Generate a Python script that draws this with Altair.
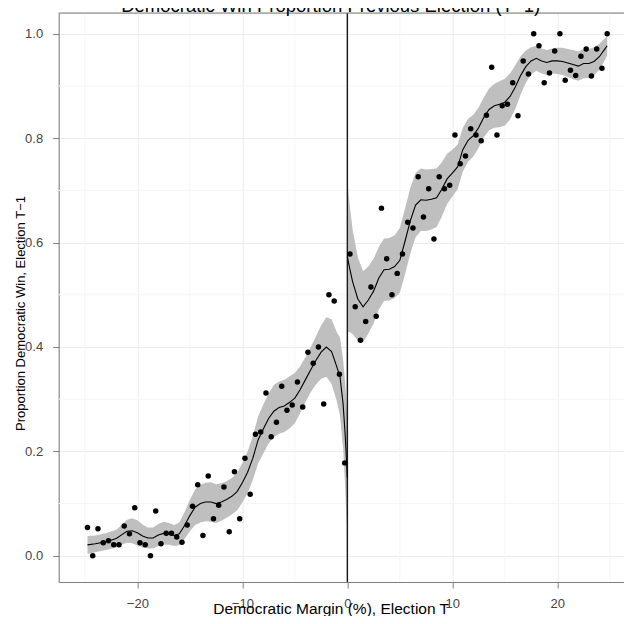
import altair as alt
import pandas as pd

TITLE = "Democratic Win Proportion Previous Election (T\u22121)"
X_TITLE = "Democratic Margin (%), Election T"
Y_TITLE = "Proportion Democratic Win, Election T\u22121"

# ---- binned observations (bin midpoints) ----
left_x = [-24.75, -24.25, -23.75, -23.25, -22.75, -22.25, -21.75, -21.25, -20.75, -20.25,
          -19.75, -19.25, -18.75, -18.25, -17.75, -17.25, -16.75, -16.25, -15.75, -15.25,
          -14.75, -14.25, -13.75, -13.25, -12.75, -12.25, -11.75, -11.25, -10.75, -10.25,
          -9.75, -9.25, -8.75, -8.25, -7.75, -7.25, -6.75, -6.25, -5.75, -5.25,
          -4.75, -4.25, -3.75, -3.25, -2.75, -2.25, -1.75, -1.25, -0.75, -0.25]
left_y = [0.054, 0.000, 0.052, 0.025, 0.029, 0.021, 0.021, 0.057, 0.042, 0.092,
          0.025, 0.021, 0.000, 0.086, 0.023, 0.043, 0.043, 0.036, 0.026, 0.059,
          0.095, 0.136, 0.039, 0.153, 0.071, 0.097, 0.132, 0.046, 0.161, 0.071,
          0.187, 0.118, 0.233, 0.237, 0.312, 0.228, 0.256, 0.325, 0.279, 0.289,
          0.333, 0.285, 0.390, 0.369, 0.400, 0.291, 0.500, 0.488, 0.348, 0.178]
right_x = [0.25, 0.75, 1.25, 1.75, 2.25, 2.75, 3.25, 3.75, 4.25, 4.75,
           5.25, 5.75, 6.25, 6.75, 7.25, 7.75, 8.25, 8.75, 9.25, 9.75,
           10.25, 10.75, 11.25, 11.75, 12.25, 12.75, 13.25, 13.75, 14.25, 14.75,
           15.25, 15.75, 16.25, 16.75, 17.25, 17.75, 18.25, 18.75, 19.25, 19.75,
           20.25, 20.75, 21.25, 21.75, 22.25, 22.75, 23.25, 23.75, 24.25, 24.75]
right_y = [0.578, 0.477, 0.413, 0.449, 0.515, 0.459, 0.666, 0.569, 0.500, 0.541,
           0.578, 0.639, 0.628, 0.726, 0.649, 0.703, 0.607, 0.726, 0.703, 0.710,
           0.806, 0.751, 0.766, 0.818, 0.806, 0.795, 0.844, 0.936, 0.806, 0.862,
           0.865, 0.906, 0.843, 0.948, 0.923, 1.000, 0.977, 0.906, 0.925, 0.967,
           1.000, 0.911, 0.930, 0.920, 0.957, 0.971, 0.919, 0.971, 0.934, 1.000]

# ---- smooth fit and confidence band, left of the cut ----
sl_x = [-24.75, -24, -23, -22, -21.5, -21, -20.5, -20, -19.5, -19, -18.5, -18, -17.5, -17,
        -16.5, -16, -15.5, -15, -14.5, -14, -13.5, -13, -12.5, -12, -11.5, -11, -10.5, -10,
        -9.5, -9, -8.5, -8, -7.5, -7, -6.5, -6, -5.5, -5, -4.5, -4, -3.5, -3, -2.5, -2,
        -1.5, -1, -0.7, -0.4, -0.2, 0]
sl_fit = [0.021, 0.023, 0.027, 0.033, 0.040, 0.047, 0.048, 0.044, 0.038, 0.034, 0.034, 0.040,
          0.043, 0.042, 0.039, 0.042, 0.058, 0.077, 0.093, 0.100, 0.103, 0.103, 0.100, 0.103,
          0.108, 0.114, 0.123, 0.140, 0.160, 0.187, 0.222, 0.243, 0.263, 0.277, 0.284, 0.287,
          0.294, 0.302, 0.318, 0.337, 0.356, 0.374, 0.390, 0.400, 0.391, 0.362, 0.343, 0.290,
          0.230, 0.150]
sl_lo = [0.004, 0.007, 0.011, 0.016, 0.021, 0.025, 0.024, 0.020, 0.016, 0.014, 0.014, 0.019,
         0.021, 0.021, 0.019, 0.020, 0.032, 0.047, 0.059, 0.064, 0.066, 0.065, 0.063, 0.067,
         0.073, 0.079, 0.087, 0.102, 0.120, 0.145, 0.177, 0.196, 0.215, 0.227, 0.234, 0.237,
         0.244, 0.254, 0.273, 0.294, 0.313, 0.328, 0.339, 0.343, 0.329, 0.296, 0.268, 0.205,
         0.130, 0.035]
sl_hi = [0.038, 0.039, 0.043, 0.050, 0.059, 0.069, 0.072, 0.068, 0.060, 0.054, 0.054, 0.061,
         0.065, 0.063, 0.059, 0.064, 0.084, 0.107, 0.127, 0.136, 0.140, 0.141, 0.137, 0.139,
         0.143, 0.149, 0.159, 0.178, 0.200, 0.229, 0.267, 0.290, 0.311, 0.327, 0.334, 0.337,
         0.344, 0.350, 0.363, 0.380, 0.399, 0.420, 0.441, 0.457, 0.453, 0.428, 0.418, 0.375,
         0.330, 0.265]

# ---- smooth fit and confidence band, right of the cut ----
sr_x = [0, 0.25, 0.5, 1, 1.5, 2, 2.5, 3, 3.5, 4, 4.5, 5, 5.5, 6, 6.5, 7, 7.5, 8, 8.5, 9,
        9.5, 10, 10.5, 11, 11.5, 12, 12.5, 13, 13.5, 14, 14.5, 15, 15.5, 16, 16.5, 17, 17.5,
        18, 18.5, 19, 19.5, 20, 20.5, 21, 21.5, 22, 22.5, 23, 23.5, 24, 24.5, 24.75]
sr_fit = [0.573, 0.548, 0.525, 0.492, 0.477, 0.490, 0.507, 0.532, 0.548, 0.549, 0.554, 0.566,
          0.603, 0.642, 0.672, 0.682, 0.681, 0.683, 0.686, 0.702, 0.722, 0.733, 0.745, 0.778,
          0.796, 0.805, 0.820, 0.840, 0.855, 0.862, 0.865, 0.869, 0.880, 0.898, 0.920, 0.937,
          0.948, 0.953, 0.948, 0.945, 0.948, 0.948, 0.947, 0.944, 0.941, 0.938, 0.943, 0.943,
          0.947, 0.956, 0.970, 0.977]
sr_lo = [0.428, 0.428, 0.425, 0.412, 0.409, 0.426, 0.445, 0.472, 0.488, 0.489, 0.494, 0.504,
         0.540, 0.579, 0.610, 0.622, 0.622, 0.625, 0.630, 0.650, 0.674, 0.688, 0.702, 0.736,
         0.755, 0.765, 0.781, 0.802, 0.815, 0.820, 0.821, 0.824, 0.836, 0.856, 0.883, 0.906,
         0.922, 0.929, 0.924, 0.921, 0.924, 0.923, 0.921, 0.917, 0.913, 0.910, 0.915, 0.915,
         0.920, 0.931, 0.949, 0.959]
sr_hi = [0.718, 0.668, 0.625, 0.572, 0.545, 0.554, 0.569, 0.592, 0.608, 0.609, 0.614, 0.628,
         0.666, 0.705, 0.734, 0.742, 0.740, 0.741, 0.742, 0.754, 0.770, 0.778, 0.788, 0.820,
         0.837, 0.845, 0.859, 0.878, 0.895, 0.904, 0.909, 0.914, 0.924, 0.940, 0.957, 0.968,
         0.974, 0.977, 0.972, 0.969, 0.972, 0.973, 0.973, 0.971, 0.969, 0.966, 0.971, 0.971,
         0.974, 0.981, 0.991, 0.995]

# ---- axis ticks / gridlines ----
major_x = [-20, -10, 0, 10, 20]
minor_x = [-25, -15, -5, 5, 15, 25]
major_y = [0.0, 0.2, 0.4, 0.6, 0.8, 1.0]
minor_y = [0.1, 0.3, 0.5, 0.7, 0.9]
cut = [0]

pts = pd.DataFrame({"margin": left_x + right_x, "prop": left_y + right_y})
sm = pd.DataFrame({
    "margin": sl_x + sr_x,
    "fit": sl_fit + sr_fit,
    "lo": sl_lo + sr_lo,
    "hi": sl_hi + sr_hi,
    "side": ["left"] * len(sl_x) + ["right"] * len(sr_x),
})

W, H = 565.3, 569
FONT = "Liberation Sans"

xs = alt.Scale(domain=[-27.49, 26.35], nice=False, zero=False)
ys = alt.Scale(domain=[-0.0502, 1.0398], nice=False, zero=False)

x_axis = alt.Axis(values=major_x, grid=True, gridColor="#ebebeb", gridWidth=1,
                  domainColor="#7f7f7f", tickColor="#7f7f7f", tickSize=6,
                  labelFontSize=13, labelColor="#444444", labelPadding=9, labelFont=FONT,
                  title=X_TITLE, titleFont=FONT, titleFontSize=15.5, titleFontWeight="normal",
                  titleColor="#000000", titleX=272, titleY=31, titleAlign="center",
                  titleBaseline="alphabetic", titleAnchor="start")
y_axis = alt.Axis(values=major_y, format=".1f", grid=True, gridColor="#ebebeb", gridWidth=1,
                  domainColor="#7f7f7f", tickColor="#7f7f7f", tickSize=6,
                  labelFontSize=13, labelColor="#444444", labelPadding=10, labelFont=FONT,
                  title=Y_TITLE, titleFont=FONT, titleFontSize=13, titleFontWeight="normal",
                  titleColor="#000000", titleX=-34.2, titleY=300, titleAlign="center",
                  titleBaseline="alphabetic", titleAngle=270, titleAnchor="start")

X = lambda f: alt.X(f, type="quantitative", scale=xs, axis=x_axis)
Y = lambda f: alt.Y(f, type="quantitative", scale=ys, axis=y_axis)

minor_v = alt.Chart(pd.DataFrame({"margin": minor_x})).mark_rule(
    color="#f5f5f5", strokeWidth=1).encode(x=X("margin"))
minor_h = alt.Chart(pd.DataFrame({"prop": minor_y})).mark_rule(
    color="#f5f5f5", strokeWidth=1).encode(y=Y("prop"))

band = alt.Chart(sm).mark_area(color="#bfbfbf", opacity=1).encode(
    x=X("margin"), y=Y("lo"), y2="hi", detail="side:N")
vline = alt.Chart(pd.DataFrame({"margin": cut})).mark_rule(
    color="#1a1a1a", strokeWidth=1.4).encode(x=X("margin"))
fit = alt.Chart(sm).mark_line(color="#000000", strokeWidth=1.1).encode(
    x=X("margin"), y=Y("fit"), detail="side:N")
dots = alt.Chart(pts).mark_circle(color="#000000", opacity=1, size=30).encode(
    x=X("margin"), y=Y("prop"))

top_border = alt.Chart(pd.DataFrame({"k": [0]})).mark_rule(
    color="#7f7f7f", strokeWidth=1).encode(
    x=alt.value(0), x2=alt.value(W), y=alt.value(0))

title_txt = alt.Chart(pd.DataFrame({"t": [TITLE]})).mark_text(
    font=FONT, fontSize=18.5, color="#000000", align="center",
    baseline="alphabetic").encode(
    text="t:N", x=alt.value(272), y=alt.value(-1.5))

chart = alt.layer(minor_v, minor_h, band, vline, fit, dots, top_border,
                  title_txt).properties(
    width=W, height=H,
    padding={"left": 50.7, "top": 5, "right": 0, "bottom": 34},
    autosize=alt.AutoSizeParams(type="none"),
).configure_view(stroke=None).configure(background="#ffffff")

chart.save("out.html", embed_options={"renderer": "svg", "actions": False})
